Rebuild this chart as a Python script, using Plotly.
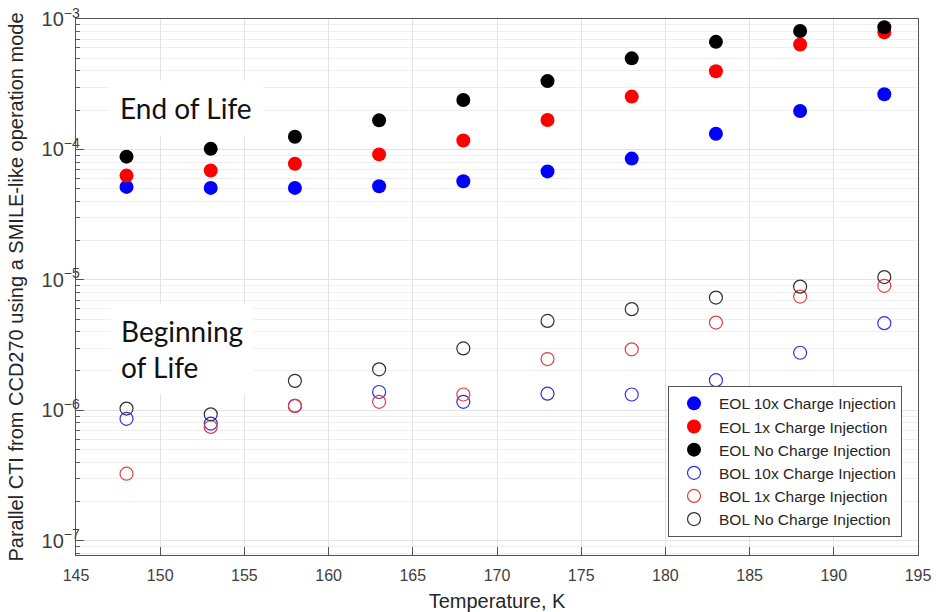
import plotly.graph_objects as go

temperature = [148, 153, 158, 163, 168, 173, 178, 183, 188, 193]

eol_10x = [5.16e-5, 5.07e-5, 5.07e-5, 5.22e-5, 5.7e-5, 6.78e-5, 8.5e-5, 1.32e-4, 1.97e-4, 2.65e-4]
eol_1x = [6.3e-5, 6.9e-5, 7.76e-5, 9.16e-5, 1.17e-4, 1.68e-4, 2.54e-4, 3.98e-4, 6.38e-4, 7.9e-4]
eol_none = [8.8e-5, 1.01e-4, 1.25e-4, 1.67e-4, 2.39e-4, 3.34e-4, 4.99e-4, 6.68e-4, 8.1e-4, 8.64e-4]

bol_10x = [8.6e-7, 7.9e-7, 1.08e-6, 1.38e-6, 1.16e-6, 1.34e-6, 1.32e-6, 1.7e-6, 2.76e-6, 4.65e-6]
bol_1x = [3.26e-7, 7.45e-7, 1.08e-6, 1.16e-6, 1.32e-6, 2.47e-6, 2.93e-6, 4.7e-6, 7.44e-6, 9.0e-6]
bol_none = [1.03e-6, 9.3e-7, 1.68e-6, 2.06e-6, 2.98e-6, 4.84e-6, 5.96e-6, 7.31e-6, 8.87e-6, 1.05e-5]

series = [
    ("EOL 10x Charge Injection", eol_10x, "#0000ff", True),
    ("EOL 1x Charge Injection", eol_1x, "#ff0000", True),
    ("EOL No Charge Injection", eol_none, "#000000", True),
    ("BOL 10x Charge Injection", bol_10x, "#3030e0", False),
    ("BOL 1x Charge Injection", bol_1x, "#e04040", False),
    ("BOL No Charge Injection", bol_none, "#303030", False),
]

fig = go.Figure()
for name, vals, color, filled in series:
    if filled:
        marker = dict(symbol="circle", size=14, color=color, line=dict(width=0))
    else:
        marker = dict(symbol="circle-open", size=13, color=color, line=dict(width=1.2, color=color))
    fig.add_trace(go.Scatter(x=temperature, y=vals, mode="markers", name=name, marker=marker))

sans = "Liberation Sans, Arial, sans-serif"

fig.update_layout(
    width=936, height=612,
    margin=dict(l=76, r=18, t=19, b=57, autoexpand=False),
    paper_bgcolor="white", plot_bgcolor="white",
    font=dict(family=sans, size=16, color="#404040"),
    showlegend=True,
    legend=dict(
        x=0.981, y=0.034, xanchor="right", yanchor="bottom",
        bgcolor="white", bordercolor="#555555", borderwidth=1,
        font=dict(family=sans, size=15.5, color="#262626"),
        itemwidth=40, tracegroupgap=0,
    ),
    annotations=[
        dict(text="End of Life", xref="paper", yref="paper", x=0.131, y=0.834,
             showarrow=False, font=dict(family="Lato, Carlito, sans-serif", size=28, color="#111111"),
             bgcolor="white", borderpad=10, xanchor="center", yanchor="middle"),
        dict(text="Beginning<br>of Life", xref="paper", yref="paper", x=0.040, y=0.385,
             showarrow=False, align="left",
             font=dict(family="Lato, Carlito, sans-serif", size=28, color="#111111"),
             bgcolor="white", borderpad=10, xanchor="left", yanchor="middle"),
    ],
)

fig.update_xaxes(
    range=[145, 195], dtick=5, tick0=145, automargin=False,
    showgrid=True, gridcolor="#e3e3e3", gridwidth=1,
    showline=True, linecolor="#555555", linewidth=1, mirror=True,
    ticks="inside", ticklen=8, tickcolor="#555555",
    ticklabelstandoff=6,
    zeroline=False,
    title=dict(text="Temperature, K", font=dict(size=20, color="#262626"), standoff=10),
    tickfont=dict(size=16, color="#404040"),
)
fig.update_yaxes(
    type="log", range=[-7.11, -3], dtick=1, automargin=False,
    exponentformat="power", showexponent="all",
    showgrid=True, gridcolor="#e3e3e3", gridwidth=1,
    minor=dict(dtick="D1", showgrid=True, gridcolor="#efefef", ticks="inside", ticklen=4, tickcolor="#606060"),
    showline=True, linecolor="#555555", linewidth=1, mirror=True,
    ticks="inside", ticklen=8, tickcolor="#555555",
    ticklabelstandoff=-8,
    zeroline=False,
    title=dict(text="Parallel CTI from CCD270 using a SMILE-like operation mode",
               font=dict(size=20, color="#262626"), standoff=12),
    tickfont=dict(size=16, color="#404040"),
)

fig.write_html("out.html", config={"displayModeBar": False},
               post_script="document.body.style.margin='0';document.body.style.padding='0';")
